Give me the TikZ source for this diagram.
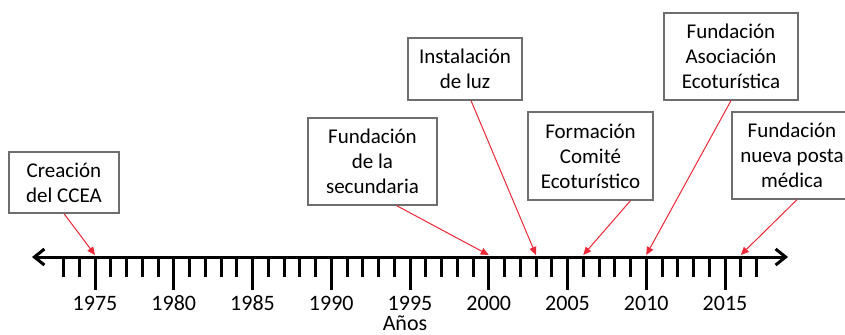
\documentclass[tikz,border=0pt]{standalone}
\usepackage{fontspec}
\setmainfont{Carlito}
\usepackage{tikz}
\usetikzlibrary{arrows.meta,positioning}
\definecolor{tlred}{RGB}{235,40,55}
\definecolor{tlgray}{RGB}{110,110,110}
\tikzset{
 tl axis/.style={line width=1.5pt,{Straight Barb[length=5pt,width=8pt,line width=1.5pt]}-{Straight Barb[length=5pt,width=8pt,line width=1.5pt]}},
 tl tick/.style={line width=1.5pt},
 tl box/.style={draw=tlgray,line width=0.6pt,fill=white,align=center,
                inner sep=2pt,font=\fontsize{10.5}{12.5}\selectfont},
 tl pointer/.style={tlred,line width=0.5pt,-{Triangle[length=4pt,width=3.5pt]}},
 tl year/.style={anchor=base,font=\fontsize{11}{13}\selectfont}
}
\begin{document}
\begin{tikzpicture}[x=0.5pt,y=0.5pt]
 \useasboundingbox (0,0) rectangle (845,334);
 \clip (0,0) rectangle (845,334);

 \coordinate (left end) at (32,77);
 \coordinate (right end) at (788,77);
 \foreach \y in {1973,...,2017}
   \coordinate (t\y) at ({95+(\y-1975)*15.75},77);

 % Year axis with a longer tick every five years.
 \draw[tl axis] (left end) -- (right end);
 \foreach \y in {1973,...,2017}{
   \pgfmathtruncatemacro{\r}{mod(\y,5)}
   \ifnum\r=0
     \draw[tl tick] (t\y) -- ++(0,-33);
     \node[tl year] at ([yshift=-26.5pt]t\y) {\y};
   \else
     \draw[tl tick] (t\y) -- ++(0,-20);
   \fi
 }
 \node[tl year] (anos) at (405,4) {Años};

 \node[tl box,minimum width=55pt,minimum height=30.5pt] (ccea) at (64,151.5)
   {Creación\\del CCEA};
 \node[tl box,minimum width=64.5pt,minimum height=43.5pt] (sec) at (372.5,172.5)
   {Fundación\\de la\\secundaria};
 \node[tl box,minimum width=57pt,minimum height=31pt] (luz) at (465,265)
   {Instalación\\de luz};
 \node[tl box,minimum width=62.5pt,minimum height=44pt] (comite) at (590.5,178)
   {Formación\\Comité\\Ecoturístico};
 \node[tl box,minimum width=67pt,minimum height=43.5pt] (asoc) at (731,277.5)
   {Fundación\\Asociación\\Ecoturística};
 \node[tl box,minimum width=60pt,minimum height=43.5pt] (posta) at (792,178.5)
   {Fundación\\nueva posta\\médica};

 \draw[tl pointer] (ccea.south) -- ([yshift=1pt]t1975);
 \draw[tl pointer] ([xshift=12pt]sec.south) -- ([yshift=1pt]t2000);
 \draw[tl pointer] ([xshift=3pt]luz.south) -- ([yshift=1pt]t2003);
 \draw[tl pointer] ([xshift=20pt]comite.south) -- ([yshift=1pt]t2006);
 \draw[tl pointer] (asoc.south) -- ([yshift=1pt]t2010);
 \draw[tl pointer] ([xshift=2.5pt]posta.south) -- ([yshift=1pt]t2016);
\end{tikzpicture}
\end{document}
